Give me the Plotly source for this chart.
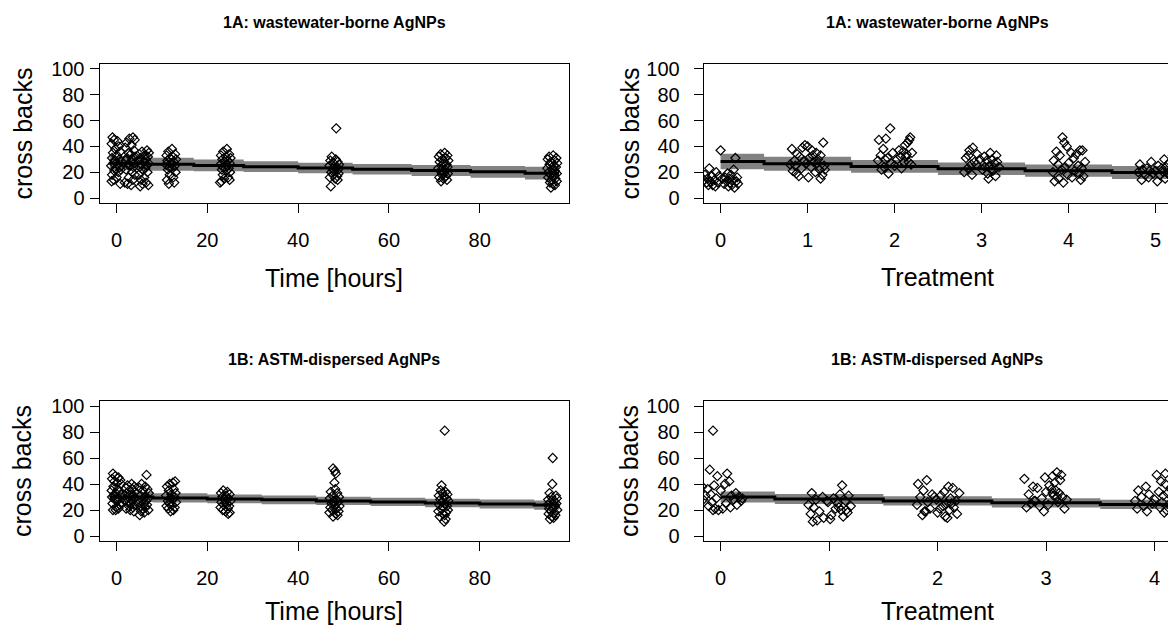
import plotly.graph_objects as go

FONT = "Liberation Sans, Arial, sans-serif"

# ---------------- data ----------------
time_groups = [0, 3, 6, 12, 24, 48, 72, 96]

# 1A, by time
tl_dx = [
    [-0.9, -0.6, 0.2, -1.1, 0.5, -0.3, 0.8, -0.8, 0.1, -1.0, 0.6, -0.4, 1.0, -0.7, 0.3, -1.2, 0.7, -0.2, 0.9, -0.5, 0.4, -1.0, 0.0, -0.6, -1.1, 0.8],
    [0.6, -0.2, 1.0, -0.8, 0.3, -1.1, 0.8, -0.4, 0.1, 1.1, -0.7, 0.5, -1.0, 0.2, 0.9, -0.5, -0.1, 0.7, -0.9, 0.4, 1.0, -0.3, 0.6, -1.2, -0.6, 0.2],
    [0.7, -0.4, 1.1, -1.0, 0.2, 0.9, -0.7, 0.4, -1.2, 0.0, 1.0, -0.5, 0.6, -0.9, 0.3, -0.2, 0.8, -1.1, 0.1, -0.6, 0.5, -0.3, 1.0, -0.8],
    [0.2, -0.6, 0.9, -1.0, 0.4, -0.2, 1.1, -0.8, 0.6, 0.0, -1.1, 0.8, -0.4, 0.3, -0.7, 1.0, -0.3, 0.5, -0.9, 0.7, -0.5],
    [0.3, -0.5, 0.8, -1.0, 0.1, 1.1, -0.7, 0.5, -0.2, 0.9, -1.1, 0.4, -0.4, 0.7, -0.8, 0.2, 1.0, -0.6, 0.6, -0.3, 0.9, -0.9, -1.2],
    [0.4, -0.6, 0.3, -0.9, 0.7, -0.2, 1.0, -1.1, 0.5, -0.4, 0.8, 0.0, -0.7, 0.9, -0.3, 0.6, -1.0, 0.2, 0.7, -0.8],
    [0.3, -0.6, 0.9, -1.0, 0.5, -0.2, 1.1, -0.8, 0.1, 0.7, -0.4, 0.9, -1.1, 0.4, -0.7, 0.2, 1.0, -0.3, 0.6, -0.9, 0.0, 0.8, -0.5],
    [0.2, -0.7, 0.9, -1.0, 0.5, -0.3, 1.1, -0.6, 0.3, 0.8, -1.1, 0.0, 0.6, -0.8, 1.0, -0.4, 0.4, -0.9, 0.7, -0.2, 1.0, -0.5, 0.1, 0.6, -0.3],
]
tl_y = [
    [47, 45, 44, 42, 40, 38, 36, 35, 33, 31, 30, 29, 28, 27, 26, 25, 24, 23, 22, 21, 20, 18, 16, 14, 13, 11],
    [47, 46, 45, 43, 41, 39, 37, 35, 34, 32, 31, 30, 29, 28, 27, 26, 25, 24, 22, 20, 18, 16, 14, 12, 11, 10],
    [37, 36, 35, 34, 33, 32, 31, 30, 29, 28, 27, 26, 25, 24, 23, 22, 20, 18, 16, 14, 12, 11, 10, 9],
    [38, 36, 34, 33, 32, 31, 30, 29, 28, 27, 26, 25, 24, 23, 22, 20, 18, 16, 14, 12, 11],
    [38, 36, 34, 33, 32, 31, 30, 29, 28, 27, 26, 25, 24, 23, 22, 21, 20, 18, 16, 15, 14, 13, 12],
    [54, 32, 30, 29, 28, 27, 26, 25, 24, 23, 22, 21, 20, 19, 18, 17, 16, 15, 14, 9],
    [35, 34, 33, 32, 31, 30, 29, 28, 27, 26, 25, 24, 23, 22, 21, 20, 19, 18, 17, 16, 15, 14, 13],
    [33, 32, 31, 30, 29, 28, 27, 26, 25, 24, 23, 22, 21, 20, 19, 18, 17, 16, 15, 14, 13, 12, 11, 10, 8],
]
tl_step_x = [-1.5, 7, 17, 28, 40, 52, 65, 78, 90, 97.5]
tl_fit = [27.0, 26.2, 25.3, 24.3, 23.3, 22.3, 21.3, 20.3, 19.3]
tl_half = [5.4, 5.0, 4.6, 4.2, 4.0, 4.0, 4.2, 4.6, 5.0]

# 1B, by time
bl_dx = [
    [-0.8, -0.3, 0.4, -1.0, 0.8, -0.5, 0.1, 1.0, -0.7, 0.3, -1.1, 0.6, -0.2, 0.9, -0.6, -1.0, 0.5, -0.4, 0.2, 1.1, -0.9, 0.7, -0.1, 0.4, -0.8, -0.2],
    [0.3, -0.6, 0.9, -1.0, 0.5, -0.2, 1.1, -0.8, 0.1, 0.7, -0.4, 0.9, -1.1, 0.4, -0.7, 0.2, 1.0, -0.3, 0.6, -0.9, 0.0, 0.8],
    [0.6, -0.5, 0.3, -1.0, 0.8, -0.2, 1.1, -0.7, 0.2, 0.9, -0.4, 0.5, -1.1, 0.0, 0.7, -0.8, 0.4, -0.3, 1.0, -0.6, 0.1, -0.9],
    [0.9, 0.4, -0.3, -0.9, 0.6, -0.5, 1.0, 0.1, -1.1, 0.7, -0.2, 0.4, -0.7, 1.1, -0.4, 0.2, -1.0, 0.8, -0.6, 0.5, -0.1],
    [-0.5, 0.4, -1.0, 0.9, 0.1, -0.7, 0.6, -0.2, 1.1, -0.9, 0.3, -0.4, 0.8, -1.1, 0.5, -0.6, 0.0, 0.9, 0.6],
    [-0.3, 0.1, 0.3, 0.0, 0.2, -0.8, 0.6, -0.4, 1.0, -1.0, 0.4, -0.2, 0.8, -0.6, 0.1, 1.1, -0.9, 0.5, -0.5, 0.9, -1.1, 0.3, 0.7, -0.3],
    [0.3, -0.4, -0.6, 0.5, -0.2, 0.9, -1.0, 0.2, 0.7, -0.7, 1.1, -0.3, 0.4, -0.9, 0.8, 0.0, -0.5, 1.0, -1.1, 0.6, -0.1, 0.3, -0.8, 0.5, 0.2],
    [0.1, 0.0, -0.6, 0.8, -0.2, 1.0, -0.9, 0.4, -0.4, 0.9, -1.0, 0.6, 0.2, -0.7, 1.1, -0.3, 0.5, -0.8, 0.7, -0.1, 0.3, -0.5],
]
bl_y = [
    [48, 46, 45, 44, 43, 42, 41, 40, 38, 36, 35, 34, 33, 32, 31, 30, 29, 28, 27, 26, 25, 24, 22, 21, 20, 20],
    [40, 39, 38, 37, 36, 35, 34, 33, 32, 31, 30, 29, 28, 27, 26, 25, 24, 23, 22, 21, 20, 19],
    [47, 40, 38, 37, 36, 35, 33, 31, 30, 29, 28, 27, 26, 25, 24, 23, 22, 21, 20, 19, 18, 16],
    [42, 41, 40, 38, 36, 35, 33, 32, 31, 30, 29, 28, 27, 26, 25, 24, 23, 22, 21, 20, 19],
    [35, 34, 33, 32, 31, 30, 29, 28, 27, 26, 25, 24, 23, 22, 21, 20, 19, 18, 17],
    [52, 50, 48, 41, 36, 34, 33, 31, 30, 29, 28, 27, 26, 25, 24, 23, 22, 21, 20, 19, 18, 17, 16, 15],
    [81, 39, 35, 34, 33, 32, 31, 30, 29, 28, 27, 26, 25, 24, 23, 22, 21, 20, 19, 18, 17, 16, 15, 13, 11],
    [60, 40, 33, 31, 30, 29, 28, 27, 26, 25, 24, 23, 22, 21, 20, 19, 18, 17, 16, 15, 14, 13],
]
bl_step_x = [-1.5, 8, 20, 32, 44, 56, 68, 80, 92, 97.5]
bl_fit = [30.0, 29.3, 28.5, 27.8, 27.0, 26.2, 25.4, 24.6, 23.8]
bl_half = [3.8, 3.6, 3.4, 3.3, 3.2, 3.2, 3.3, 3.4, 3.6]

# 1A, by treatment
tr_groups = [0, 1, 2, 3, 4, 5]
tr_dx = [
    [0.0, 0.17, -0.13, 0.15, -0.05, 0.08, -0.18, 0.12, -0.02, -0.1, 0.05, 0.19, -0.15, 0.02, 0.1, -0.07, 0.14, -0.19, 0.07, -0.12, 0.18, -0.03, 0.11, -0.16, 0.04, 0.2, -0.09, 0.13, -0.14, 0.09, -0.06, 0.16],
    [0.18, -0.03, 0.0, -0.06, -0.18, 0.05, 0.1, -0.12, 0.15, -0.09, 0.02, 0.12, -0.15, 0.07, -0.01, -0.2, 0.19, 0.04, -0.07, 0.14, -0.17, 0.09, -0.13, 0.17, -0.1, 0.01, 0.15, -0.04, 0.11, -0.14, 0.06, 0.2],
    [-0.05, 0.18, -0.1, -0.18, 0.17, 0.15, 0.12, -0.13, 0.05, 0.1, -0.02, 0.14, -0.16, 0.07, -0.08, 0.03, -0.19, 0.11, -0.04, 0.19, 0.0, -0.12, 0.08, -0.15, -0.07, 0.2, 0.13, -0.11, 0.16],
    [-0.1, -0.14, 0.1, -0.05, 0.17, 0.03, -0.18, 0.12, 0.06, -0.08, 0.15, -0.12, 0.09, 0.2, -0.16, 0.01, 0.13, -0.2, 0.07, -0.11, 0.16, 0.08, -0.02, 0.18, -0.06, 0.04, 0.11, -0.15],
    [-0.07, -0.05, -0.02, 0.13, 0.16, -0.14, 0.03, 0.09, -0.1, 0.06, -0.17, 0.19, 0.0, -0.12, 0.11, -0.04, 0.15, -0.08, 0.07, -0.18, 0.12, -0.01, 0.17, 0.04, -0.11, 0.14, -0.16, -0.06],
    [0.2, 0.1, -0.05, 0.15, -0.18, 0.03, 0.12, -0.1, 0.07, -0.15, 0.18, 0.0, -0.07, 0.09, -0.2, 0.14, -0.03, 0.05, -0.12, 0.17, -0.08, 0.11, -0.16, 0.02],
]
tr_y = [
    [37, 31, 23, 22, 20, 19, 18, 18, 17, 17, 16, 16, 15, 15, 15, 14, 14, 14, 13, 13, 13, 12, 12, 12, 11, 11, 10, 10, 10, 9, 9, 8],
    [43, 41, 40, 39, 38, 37, 35, 34, 33, 32, 31, 30, 29, 28, 27, 26, 25, 24, 23, 22, 21, 20, 19, 18, 17, 16, 15, 29, 27, 25, 33, 22],
    [54, 47, 46, 45, 45, 43, 41, 38, 37, 36, 35, 34, 33, 32, 31, 30, 29, 28, 27, 26, 25, 24, 23, 22, 19, 35, 32, 30, 28],
    [39, 37, 35, 34, 33, 32, 31, 30, 29, 28, 27, 26, 25, 24, 23, 22, 21, 20, 19, 18, 17, 15, 30, 28, 26, 24, 22, 33],
    [47, 43, 40, 37, 37, 36, 35, 34, 33, 31, 29, 28, 27, 26, 25, 24, 23, 22, 21, 20, 19, 18, 17, 16, 15, 14, 13, 12],
    [33, 30, 28, 27, 26, 25, 24, 23, 23, 22, 22, 21, 21, 20, 20, 19, 19, 18, 18, 17, 16, 15, 14, 13],
]
tr_step_x = [0, 0.5, 1.5, 2.5, 3.5, 4.5, 5.3]
tr_fit = [28.3, 26.5, 24.5, 22.7, 21.2, 19.8]
tr_half = [6.0, 5.4, 5.0, 4.8, 4.8, 5.0]

# 1B, by treatment
br_groups = [0, 1, 2, 3, 4]
br_dx = [
    [-0.07, -0.1, 0.06, -0.03, 0.08, 0.04, -0.06, -0.17, -0.12, 0.0, 0.14, -0.09, 0.1, 0.17, -0.04, 0.12, -0.16, 0.19, -0.08, 0.05, 0.15, -0.11, 0.09, -0.05, 0.02, -0.02, -0.07, -0.2, -0.14, 0.2],
    [0.12, -0.16, 0.1, 0.18, -0.06, 0.04, -0.12, 0.15, -0.01, 0.08, -0.19, 0.2, -0.14, 0.06, 0.11, -0.09, 0.17, -0.17, 0.02, 0.13, -0.05, 0.01, -0.11, -0.15, -0.02, 0.09, 0.16],
    [-0.1, -0.18, 0.1, 0.14, -0.13, 0.06, 0.2, -0.05, 0.03, -0.16, 0.12, -0.01, 0.17, -0.09, 0.08, -0.19, 0.05, 0.15, -0.07, 0.11, -0.12, 0.0, 0.18, -0.14, 0.07, 0.09, -0.03, 0.13, 0.02, -0.11],
    [0.1, 0.14, 0.06, -0.01, -0.2, 0.13, 0.08, 0.03, -0.12, -0.08, 0.05, 0.09, 0.0, 0.12, -0.16, 0.07, 0.15, -0.04, 0.19, -0.1, 0.11, -0.14, 0.02, -0.06, -0.18, 0.17, -0.02, 0.06, 0.1, -0.11],
    [0.1, 0.02, 0.17, 0.06, 0.1, -0.08, 0.15, -0.15, 0.04, 0.12, -0.05, 0.08, -0.12, 0.2, 0.0, -0.18, 0.07, -0.02, 0.13, -0.1, 0.05, -0.16, 0.11, -0.07, 0.09],
]
br_y = [
    [81, 51, 48, 46, 42, 40, 39, 38, 36, 35, 33, 32, 31, 30, 29, 28, 28, 27, 26, 25, 24, 23, 22, 21, 21, 20, 20, 30, 31, 29],
    [39, 33, 32, 31, 30, 29, 28, 27, 26, 25, 24, 23, 22, 21, 20, 19, 18, 17, 16, 15, 14, 13, 12, 11, 27, 22, 20],
    [43, 40, 38, 37, 35, 34, 33, 32, 31, 30, 29, 28, 27, 26, 25, 24, 23, 22, 21, 20, 19, 18, 17, 16, 15, 14, 30, 25, 21, 19],
    [49, 47, 46, 45, 44, 43, 41, 39, 38, 37, 36, 35, 34, 33, 32, 31, 30, 29, 28, 27, 26, 25, 24, 23, 22, 21, 19, 33, 30, 27],
    [48, 47, 44, 42, 40, 38, 36, 35, 34, 33, 32, 31, 30, 29, 28, 27, 26, 25, 24, 23, 22, 21, 20, 19, 18],
]
br_step_x = [0, 0.5, 1.5, 2.5, 3.5, 4.3]
br_fit = [30.0, 28.5, 27.0, 25.5, 24.3]
br_half = [4.2, 3.8, 3.6, 3.6, 3.6]

titles = ["1A: wastewater-borne AgNPs", "1A: wastewater-borne AgNPs",
          "1B: ASTM-dispersed AgNPs", "1B: ASTM-dispersed AgNPs"]
xlabels = ["Time [hours]", "Treatment", "Time [hours]", "Treatment"]
ylabel = "cross backs"
y_ticks = [0, 20, 40, 60, 80, 100]
time_ticks = [0, 20, 40, 60, 80]


def expand(groups, dxs, ys):
    xs, yv = [], []
    for g, dx, y in zip(groups, dxs, ys):
        assert len(dx) == len(y), (g, len(dx), len(y))
        xs += [g + d for d in dx]
        yv += y
    return xs, yv


W, H = 1168, 627
panels = [
    dict(groups=time_groups, dx=tl_dx, y=tl_y, sx=tl_step_x, fit=tl_fit, half=tl_half,
         px=(99.5, 568.6), py=(63.8, 203.2), xr=[-3.77, 99.6], ticks=time_ticks, right=True,
         ystand=1, xlab_y=278, ylab_x=22),
    dict(groups=tr_groups, dx=tr_dx, y=tr_y, sx=tr_step_x, fit=tr_fit, half=tr_half,
         px=(703.7, 1168), py=(63.8, 203.2), xr=[-0.194, 5.143], ticks=tr_groups, right=False,
         ystand=10, xlab_y=277, ylab_x=629),
    dict(groups=time_groups, dx=bl_dx, y=bl_y, sx=bl_step_x, fit=bl_fit, half=bl_half,
         px=(99.5, 568.6), py=(400.8, 541.2), xr=[-3.77, 99.6], ticks=time_ticks, right=True,
         ystand=1, xlab_y=611, ylab_x=22),
    dict(groups=br_groups, dx=br_dx, y=br_y, sx=br_step_x, fit=br_fit, half=br_half,
         px=(703.7, 1168), py=(400.8, 541.2), xr=[-0.156, 4.124], ticks=br_groups, right=False,
         ystand=10, xlab_y=611, ylab_x=629),
]

fig = go.Figure()
layout = {}
annotations = []
for i, p in enumerate(panels):
    n = i + 1
    xa = "x" if n == 1 else f"x{n}"
    ya = "y" if n == 1 else f"y{n}"
    lo = [f - h for f, h in zip(p["fit"], p["half"])]
    hi = [f + h for f, h in zip(p["fit"], p["half"])]
    fig.add_trace(go.Scatter(x=p["sx"], y=lo + [lo[-1]], mode="lines", line=dict(width=0, shape="hv"),
                             xaxis=xa, yaxis=ya, showlegend=False, hoverinfo="skip"))
    fig.add_trace(go.Scatter(x=p["sx"], y=hi + [hi[-1]], mode="lines", line=dict(width=0, shape="hv"),
                             fill="tonexty", fillcolor="#828282",
                             xaxis=xa, yaxis=ya, showlegend=False, hoverinfo="skip"))
    xs, ys = expand(p["groups"], p["dx"], p["y"])
    fig.add_trace(go.Scatter(x=xs, y=ys, mode="markers",
                             marker=dict(symbol="diamond-open", size=7, color="black",
                                         line=dict(color="black", width=1.2)),
                             xaxis=xa, yaxis=ya, showlegend=False))
    fig.add_trace(go.Scatter(x=p["sx"], y=p["fit"] + [p["fit"][-1]], mode="lines",
                             line=dict(color="black", width=3, shape="hv"),
                             xaxis=xa, yaxis=ya, showlegend=False))

    x0, x1 = p["px"]
    y0, y1 = p["py"]
    common = dict(showgrid=False, zeroline=False, showline=True, linecolor="black", linewidth=1,
                  ticks="outside", ticklen=9, tickwidth=1, tickcolor="black",
                  tickfont=dict(family=FONT, size=20, color="black"), automargin=False)
    layout["xaxis" if n == 1 else f"xaxis{n}"] = dict(
        common, domain=[x0 / W, x1 / W], range=p["xr"], anchor=ya, mirror=True,
        tickmode="array", tickvals=p["ticks"], ticklabelstandoff=10)
    layout["yaxis" if n == 1 else f"yaxis{n}"] = dict(
        common, domain=[1 - y1 / H, 1 - y0 / H], range=[-4, 104], anchor=xa, mirror=p["right"],
        tickmode="array", tickvals=y_ticks, ticklabelstandoff=p["ystand"])

    cx = (x0 + (x1 if p["right"] else 1171)) / 2
    annotations.append(dict(text=f"<b>{titles[i]}</b>", x=cx / W, y=1 - (y0 - 41) / H,
                            xref="paper", yref="paper", showarrow=False, xanchor="center", yanchor="middle",
                            font=dict(family=FONT, size=16, color="black")))
    annotations.append(dict(text=xlabels[i], x=cx / W, y=1 - p["xlab_y"] / H,
                            xref="paper", yref="paper", showarrow=False, xanchor="center", yanchor="middle",
                            font=dict(family=FONT, size=25, color="black")))
    annotations.append(dict(text=ylabel, x=p["ylab_x"] / W, y=1 - ((y0 + y1) / 2) / H, textangle=-90,
                            xref="paper", yref="paper", showarrow=False, xanchor="center", yanchor="middle",
                            font=dict(family=FONT, size=25, color="black")))

fig.update_layout(width=W, height=H, margin=dict(l=0, r=0, t=0, b=0),
                  paper_bgcolor="white", plot_bgcolor="white", showlegend=False,
                  annotations=annotations, **layout)

fig.write_html("out.html", config={"displayModeBar": False},
               post_script="document.body.style.margin='0';")
